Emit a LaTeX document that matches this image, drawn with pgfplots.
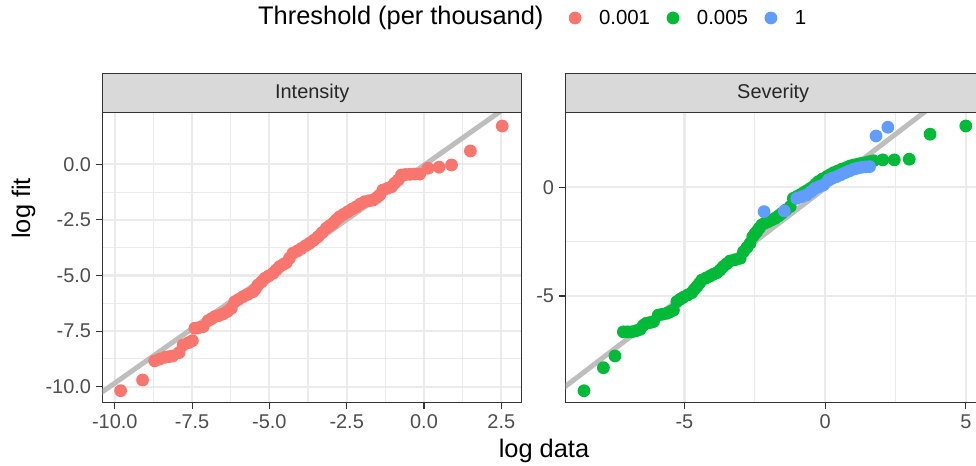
\documentclass[border=0pt]{standalone}
\usepackage{fontspec}
\setmainfont{Liberation Sans}
\usepackage{pgfplots}
\pgfplotsset{compat=1.18}

\definecolor{cRed}{HTML}{F8766D}
\definecolor{cGreen}{HTML}{00BA38}
\definecolor{cBlue}{HTML}{619CFF}
\definecolor{gridcol}{HTML}{EBEBEB}
\definecolor{framecol}{HTML}{333333}
\definecolor{ticklab}{HTML}{4D4D4D}
\definecolor{stripcol}{HTML}{D9D9D9}
\definecolor{qqline}{HTML}{BEBEBE}

\pgfplotsset{
  panel/.style={
    scale only axis,
    height=290bp,
    axis line style={framecol, line width=1.1bp},
    tick style={framecol, line width=1.1bp},
    tick align=outside,
    major tick length=6.5bp,
    minor tick length=0bp,
    xtick pos=bottom, ytick pos=left,
    grid=both,
    major grid style={draw=gridcol, line width=2.2bp},
    minor grid style={draw=gridcol, line width=1.1bp},
    minor tick num=1,
    tick label style={font=\fontsize{20}{24}\selectfont, text=ticklab},
    /pgf/number format/assume math mode=true,
    xticklabel style={inner sep=0bp, yshift=-5bp},
    yticklabel style={inner sep=0bp, xshift=-5bp},
    mark size=6.4bp,
  },
}

\begin{document}
\begin{tikzpicture}
\useasboundingbox (0,0) rectangle (976bp,466bp);

%% left panel
\begin{axis}[panel, name=left,
  at={(102.7bp,63.3bp)}, anchor=south west,
  width=419bp,
  xmin=-10.39, xmax=3.16, ymin=-10.72, ymax=2.32,
  xtick={-10,-7.5,-5,-2.5,0,2.5},
  xticklabels={-10.0,-7.5,-5.0,-2.5,0.0,2.5},
  ytick={-10,-7.5,-5,-2.5,0},
  yticklabels={-10.0,-7.5,-5.0,-2.5,0.0},
  legend columns=-1,
  legend style={at={(axis description cs:1.1117,1.3266)}, anchor=west,
    draw=none, fill=none, inner sep=0bp,
    font=\fontsize{20.5}{24}\selectfont,
    nodes={inner sep=0bp},
    /tikz/every odd column/.append style={column sep=17.5bp},
    /tikz/every even column/.append style={column sep=16.5bp}},
]
\addplot[qqline, line width=5bp, forget plot] coordinates {(-11,-10.82) (4,3.88)};
\addplot[only marks, mark=*, cRed, draw opacity=0] coordinates {
(-9.81,-10.18) (-9.10,-9.70) (-8.71,-8.84) (-8.55,-8.76) (-8.38,-8.68)
(-8.25,-8.65) (-8.13,-8.62) (-7.92,-8.47) (-7.79,-8.13) (-7.62,-8.02)
(-7.49,-7.93) (-7.41,-7.37) (-7.30,-7.35) (-7.14,-7.30) (-6.98,-7.03)
(-6.88,-6.95) (-6.77,-6.85) (-6.63,-6.80) (-6.50,-6.73) (-6.36,-6.62)
(-6.23,-6.47) (-6.12,-6.18) (-6.00,-6.08) (-5.85,-5.95) (-5.70,-5.85)
(-5.53,-5.73) (-5.45,-5.60) (-5.37,-5.43) (-5.25,-5.28) (-5.15,-5.13)
(-5.02,-5.02) (-4.88,-4.90) (-4.78,-4.75) (-4.67,-4.60) (-4.55,-4.50)
(-4.45,-4.42) (-4.35,-4.22) (-4.24,-4.00) (-4.10,-3.90) (-3.96,-3.78)
(-3.83,-3.66) (-3.70,-3.55) (-3.57,-3.42) (-3.43,-3.26) (-3.30,-3.08)
(-3.16,-2.88) (-3.05,-2.76) (-2.94,-2.65) (-2.84,-2.50) (-2.73,-2.36)
(-2.60,-2.25) (-2.46,-2.13) (-2.33,-2.02) (-2.19,-1.91) (-2.05,-1.78)
(-1.92,-1.68) (-1.78,-1.64) (-1.65,-1.61) (-1.53,-1.50) (-1.43,-1.38)
(-1.33,-1.16) (-1.18,-1.08) (-1.05,-1.01) (-0.95,-0.85) (-0.84,-0.71)
(-0.73,-0.48) (-0.60,-0.46) (-0.46,-0.45) (-0.30,-0.44) (-0.14,-0.44)
(0.13,-0.18) (0.49,-0.13) (0.89,-0.03) (1.50,0.60) (2.53,1.72)
};
\addlegendentry{0.001}
\addlegendimage{only marks, mark=*, cGreen, draw opacity=0}
\addlegendentry{0.005}
\addlegendimage{only marks, mark=*, cBlue, draw opacity=0}
\addlegendentry{1}
\end{axis}

%% right panel
\begin{axis}[panel, name=right,
  at={(565.7bp,63.3bp)}, anchor=south west,
  width=415bp,
  xmin=-9.22, xmax=5.53, ymin=-9.91, ymax=3.43,
  xtick={-5,0,5}, ytick={-5,0},
  xticklabels={-5,0,5}, yticklabels={-5,0},
]
\addplot[qqline, line width=5bp] coordinates {(-10,-9.92) (6,5.9)};
\addplot[only marks, mark=*, cGreen, draw opacity=0] coordinates {
(-8.57,-9.36) (-7.88,-8.30) (-7.47,-7.76) (-7.17,-6.65) (-7.02,-6.65)
(-6.87,-6.65) (-6.72,-6.60) (-6.58,-6.54) (-6.46,-6.35) (-6.36,-6.26)
(-6.22,-6.22) (-6.10,-6.18) (-5.93,-5.88) (-5.78,-5.84) (-5.63,-5.80)
(-5.50,-5.72) (-5.39,-5.65) (-5.27,-5.26) (-5.15,-5.15) (-5.04,-5.06)
(-4.88,-4.95) (-4.74,-4.85) (-4.65,-4.70) (-4.56,-4.57) (-4.47,-4.42)
(-4.38,-4.27) (-4.23,-4.17) (-4.09,-4.08) (-3.97,-4.00) (-3.85,-3.93)
(-3.73,-3.80) (-3.62,-3.65) (-3.50,-3.52) (-3.38,-3.39) (-3.20,-3.33)
(-3.02,-3.27) (-2.90,-2.96) (-2.78,-2.77) (-2.67,-2.58) (-2.57,-2.27)
(-2.50,-2.15) (-2.43,-2.04) (-2.34,-1.88) (-2.25,-1.73) (-2.14,-1.65)
(-2.02,-1.58) (-1.90,-1.50) (-1.78,-1.43) (-1.66,-1.32) (-1.54,-1.20)
(-1.40,-1.05) (-1.24,-0.89) (-1.13,-0.51) (-1.01,-0.43) (-0.89,-0.35)
(-0.77,-0.25) (-0.65,-0.16) (-0.53,-0.06) (-0.42,0.03) (-0.33,0.15)
(-0.24,0.26) (-0.10,0.38) (0.06,0.49) (0.18,0.58) (0.30,0.67)
(0.45,0.75) (0.59,0.83) (0.74,0.90) (0.89,0.98) (1.03,1.03)
(1.18,1.07) (1.30,1.10) (1.42,1.13) (1.57,1.18) (1.72,1.22)
(2.05,1.26) (2.46,1.26) (2.99,1.29) (3.73,2.44) (5.00,2.82)
};
\addplot[only marks, mark=*, cBlue, draw opacity=0] coordinates {
(-2.17,-1.12) (-1.45,-1.09) (-1.01,-0.51) (-0.83,-0.43) (-0.65,-0.35)
(-0.50,-0.20) (-0.36,-0.05) (-0.21,0.03) (-0.06,0.11) (0.12,0.34)
(0.26,0.42) (0.41,0.49) (0.56,0.58) (0.71,0.67) (0.86,0.75)
(1.01,0.83) (1.15,0.88) (1.30,0.92) (1.44,0.94) (1.58,0.95)
(1.81,2.36) (2.23,2.76)
};
\end{axis}

%% facet strips
\draw[framecol, fill=stripcol, line width=1.1bp] (left.north west) rectangle ([yshift=39.4bp]left.north east);
\draw[framecol, fill=stripcol, line width=1.1bp] (right.north west) rectangle ([yshift=39.4bp]right.north east);
\node[font=\fontsize{20}{24}\selectfont, text=black!85] at ([yshift=19.7bp]left.north) {Intensity};
\node[font=\fontsize{20}{24}\selectfont, text=black!85] at ([yshift=19.7bp]right.north) {Severity};

%% axis titles and legend title
\node[font=\fontsize{25.5}{30}\selectfont, anchor=base] at (544bp,8.7bp) {log data};
\node[font=\fontsize{25.5}{30}\selectfont, rotate=90, anchor=base] at (30bp,257.6bp) {log fit};
\node[font=\fontsize{25.5}{30}\selectfont, anchor=west, inner sep=0bp] at (258bp,448bp) {Threshold (per thousand)};
\end{tikzpicture}
\end{document}
